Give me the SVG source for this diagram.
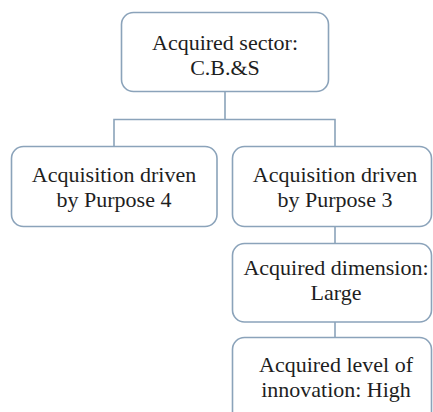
<svg xmlns="http://www.w3.org/2000/svg" width="433" height="412" viewBox="0 0 433 412">
  <style>
    .box { fill: #ffffff; stroke: #8ba3ba; stroke-width: 1.6; }
    .link { fill: none; stroke: #8ba3ba; stroke-width: 1.6; }
    .label { font-family: "Liberation Serif", "Times New Roman", serif; font-size: 22px; fill: #1e1e1e; text-anchor: middle; }
  </style>
  <rect width="433" height="412" fill="#ffffff"/>

  <!-- connectors -->
  <g id="connectors">
    <path class="link" d="M225,92 V119.5 M114,146 V119.5 H335 V146"/>
    <path class="link" d="M335,227 V243"/>
    <path class="link" d="M335,322 V337"/>
  </g>

  <g id="sector">
    <rect class="box" x="121.5" y="12.5" width="207" height="79" rx="12"/>
    <text class="label" x="225" y="50">Acquired sector:</text>
    <text class="label" x="225" y="75">C.B.&amp;S</text>
  </g>

  <g id="purpose4">
    <rect class="box" x="11.5" y="146.5" width="205.5" height="80" rx="12"/>
    <text class="label" x="114" y="182">Acquisition driven</text>
    <text class="label" x="114" y="207">by Purpose 4</text>
  </g>

  <g id="purpose3">
    <rect class="box" x="232.5" y="146.5" width="199" height="80" rx="12"/>
    <text class="label" x="335" y="182">Acquisition driven</text>
    <text class="label" x="335" y="207">by Purpose 3</text>
  </g>

  <g id="dimension">
    <rect class="box" x="232.5" y="243.5" width="199" height="78.5" rx="12"/>
    <text class="label" x="336" y="275">Acquired dimension:</text>
    <text class="label" x="336" y="300">Large</text>
  </g>

  <g id="innovation">
    <rect class="box" x="232.5" y="337.5" width="199" height="90" rx="12"/>
    <text class="label" x="336" y="372">Acquired level of</text>
    <text class="label" x="336" y="397">innovation: High</text>
  </g>
</svg>
